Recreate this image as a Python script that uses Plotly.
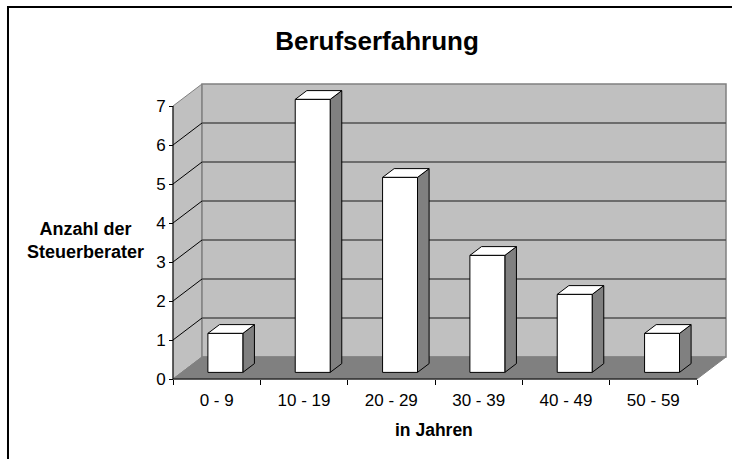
import plotly.graph_objects as go

# ---------------- data ----------------
categories = ["0 - 9", "10 - 19", "20 - 29", "30 - 39", "40 - 49", "50 - 59"]
counts = [1, 7, 5, 3, 2, 1]
y_ticks = [0, 1, 2, 3, 4, 5, 6, 7]
chart_title = "Berufserfahrung"
x_title = "in Jahren"
y_title = "Anzahl der<br>Steuerberater"

# ---------------- geometry (pixels of the reference) ----------------
W_IMG, H_IMG = 732, 459
PX_X, PX_Y = 87.33, 39.0          # pixels per category / per unit
X0_PX, Y0_PX = 173, 379           # front-left-bottom corner
DX = 29 / PX_X                    # depth offset in x units
DY = 22 / PX_Y                    # depth offset in y units
BAR_W = 0.40
BAR_FRONT, BAR_BACK = 0.3, 0.7
PAD = 4
FONT = "Liberation Sans, Arial, sans-serif"

n = len(categories)
ymax = max(y_ticks)
xr = [-PAD / PX_X, n + DX + PAD / PX_X]
yr = [-PAD / PX_Y, ymax + DY + PAD / PX_Y]
plot_w = (xr[1] - xr[0]) * PX_X
plot_h = (yr[1] - yr[0]) * PX_Y
m_l = X0_PX - PAD
m_b = H_IMG - (Y0_PX + PAD)
m_t = H_IMG - m_b - plot_h
m_r = W_IMG - m_l - plot_w

fig = go.Figure()


def poly(xs, ys, fill, line_color="black", width=1):
    fig.add_trace(go.Scatter(
        x=list(xs) + [xs[0]], y=list(ys) + [ys[0]], mode="lines",
        fill="toself", fillcolor=fill,
        line=dict(color=line_color, width=width),
        hoverinfo="skip", showlegend=False))


def seg(xs, ys, color, width=1):
    fig.add_trace(go.Scatter(
        x=xs, y=ys, mode="lines", line=dict(color=color, width=width),
        hoverinfo="skip", showlegend=False))


# walls and floor
poly([0, DX, DX, 0], [0, DY, ymax + DY, ymax], "#c0c0c0", "#808080", 1)
poly([DX, n + DX, n + DX, DX], [DY, DY, ymax + DY, ymax + DY], "#c0c0c0", "#808080", 1.5)
poly([0, n, n + DX, DX], [0, 0, DY, DY], "#808080", "#808080", 1)

# gridlines
for k in y_ticks[1:-1]:
    seg([DX, n + DX], [k + DY, k + DY], "#505050", 1.5)
    seg([0, DX], [k, k + DY], "black", 1)

# axis lines
seg([0, 0], [0, ymax], "black", 1)
seg([0, n], [0, 0], "black", 1)

# bars
sx = (BAR_BACK - BAR_FRONT) * DX
sy = (BAR_BACK - BAR_FRONT) * DY
for i, v in enumerate(counts):
    c = i + 0.5
    fx0 = c - BAR_W / 2 + BAR_FRONT * DX
    fx1 = fx0 + BAR_W
    fy0 = BAR_FRONT * DY
    fy1 = v + fy0
    poly([fx1, fx1 + sx, fx1 + sx, fx1], [fy0, fy0 + sy, fy1 + sy, fy1], "#808080")
    poly([fx0, fx1, fx1 + sx, fx0 + sx], [fy1, fy1, fy1 + sy, fy1 + sy], "#ffffff")
    poly([fx0, fx1, fx1, fx0], [fy0, fy0, fy1, fy1], "#ffffff")


# outer border (paper coords)
def px_to_paper_x(px):
    return (px - m_l) / plot_w


def px_to_paper_y(py):
    return 1 - (py - m_t) / plot_h


fig.add_shape(type="rect", xref="paper", yref="paper",
              x0=px_to_paper_x(8), y0=px_to_paper_y(470),
              x1=px_to_paper_x(745), y1=px_to_paper_y(7),
              line=dict(color="black", width=2), layer="above")

fig.add_annotation(text="<b>" + y_title + "</b>", xref="paper", yref="paper",
                   x=px_to_paper_x(86), y=px_to_paper_y(241),
                   showarrow=False, xanchor="center", yanchor="middle",
                   font=dict(family=FONT, size=18, color="black"))
fig.add_annotation(text="<b>" + x_title + "</b>", xref="paper", yref="paper",
                   x=px_to_paper_x(434), y=px_to_paper_y(430),
                   showarrow=False, xanchor="center", yanchor="middle",
                   font=dict(family=FONT, size=17.5, color="black"))

fig.update_layout(
    width=W_IMG, height=H_IMG,
    margin=dict(l=m_l, r=m_r, t=m_t, b=m_b, pad=0, autoexpand=False),
    paper_bgcolor="white", plot_bgcolor="white",
    hovermode=False, showlegend=False,
    title=dict(text="<b>" + chart_title + "</b>", x=377 / W_IMG, xanchor="center",
               y=1 - 41 / H_IMG, yanchor="middle", automargin=False,
               font=dict(family=FONT, size=26, color="black")),
    xaxis=dict(range=xr, showgrid=False, zeroline=False, showline=False,
               automargin=False,
               tickvals=[i + 0.5 for i in range(n)], ticktext=categories,
               ticks="outside", ticklen=6, tickcolor="rgba(0,0,0,0)",
               tickfont=dict(family=FONT, size=17, color="black"),
               minor=dict(tickvals=list(range(n + 1)), ticks="outside",
                          ticklen=5, tickcolor="black", tickwidth=1),
               anchor="free", position=(0 - yr[0]) / (yr[1] - yr[0]),
               fixedrange=True),
    yaxis=dict(range=yr, showgrid=False, zeroline=False, showline=False,
               automargin=False,
               tickvals=y_ticks, ticks="outside", ticklen=4, tickcolor="black",
               tickfont=dict(family=FONT, size=17, color="black"),
               anchor="free", position=(0 - xr[0]) / (xr[1] - xr[0]),
               fixedrange=True),
)

fig.write_html("out.html", config={"displayModeBar": False},
               post_script="document.body.style.margin='0';")
